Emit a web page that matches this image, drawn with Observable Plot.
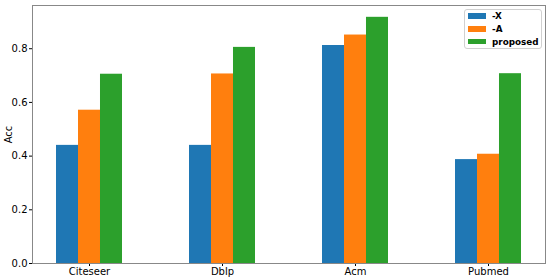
<!DOCTYPE html>
<html>
<head>
<meta charset="utf-8">
<script src="https://cdn.jsdelivr.net/npm/d3@7"></script>
<script src="https://cdn.jsdelivr.net/npm/@observablehq/plot@0.6"></script>
<style>
  html, body { margin: 0; padding: 0; background: white; }
  #wrap { position: relative; width: 550px; height: 277px; }
  #legend {
    position: absolute; left: 464px; top: 9px; width: 78px; height: 40px;
    border: 1px solid #d0d0d0; border-radius: 3px; background: rgba(255,255,255,0.85);
    box-sizing: border-box; font-family: "DejaVu Sans", sans-serif; font-weight: bold; font-size: 8.8px; color: #000;
  }
  .row { position: absolute; left: 0; height: 10px; display: flex; align-items: center; }
  .sw { width: 18px; height: 5.5px; margin-left: 3px; margin-right: 6px; }
</style>
</head>
<body>
<div id="wrap"></div>
<script>
const categories = ["Citeseer", "Dblp", "Acm", "Pubmed"];
const series = ["-X", "-A", "proposed"];
const valuesX = [0.44, 0.44, 0.812, 0.387];
const valuesA = [0.571, 0.706, 0.851, 0.407];
const valuesProposed = [0.705, 0.805, 0.917, 0.707];
const seriesColors = ["#1f77b4", "#ff7f0e", "#2ca02c"];
const yTicks = [0, 0.2, 0.4, 0.6, 0.8];
const yLabel = "Acc";

const seriesValues = [valuesX, valuesA, valuesProposed];
const rows = [];
series.forEach((s, j) => categories.forEach((c, i) => rows.push({category: c, series: s, value: seriesValues[j][i]})));

const W = 550, H = 277;
const mL = 32, mR = 5, mT = 5, mB = 14;
const pInner = 0.835, pOuter = 0.342;
const step = (W - mL - mR) / (categories.length - pInner + 2 * pOuter);
const bw = step * (1 - pInner);

const marks = series.map((s, j) =>
  Plot.barY(rows.filter(d => d.series === s), {
    x: "category", y: "value", fill: seriesColors[j], dx: (j - 1) * bw, inset: 0
  })
);

const chart = Plot.plot({
  width: W, height: H,
  marginLeft: mL, marginRight: mR, marginTop: mT, marginBottom: mB,
  style: {fontFamily: "DejaVu Sans, sans-serif", fontSize: "10px", background: "white", color: "#000"},
  x: {type: "band", domain: categories, paddingInner: pInner, paddingOuter: pOuter, label: null, tickSize: 3, tickPadding: 1},
  y: {domain: [0, 0.961], ticks: yTicks, tickFormat: d3.format(".1f"), tickSize: 3, tickPadding: 2,
      label: yLabel, labelAnchor: "center", labelOffset: 28, labelArrow: "none"},
  marks: [
    ...marks,
    Plot.frame({stroke: "#888", strokeWidth: 1})
  ]
});
// make sure no arrow is appended to the axis label
chart.querySelectorAll("text").forEach(t => {
  if (t.textContent.startsWith(yLabel) && t.textContent !== yLabel) t.textContent = yLabel;
});
const wrap = document.getElementById("wrap");
wrap.appendChild(chart);

const legend = document.createElement("div");
legend.id = "legend";
series.forEach((s, j) => {
  const row = document.createElement("div");
  row.className = "row";
  row.style.top = (1 + j * 12.8) + "px";
  const sw = document.createElement("div");
  sw.className = "sw";
  sw.style.background = seriesColors[j];
  const t = document.createElement("span");
  t.textContent = s;
  row.appendChild(sw);
  row.appendChild(t);
  legend.appendChild(row);
});
wrap.appendChild(legend);
</script>
</body>
</html>
